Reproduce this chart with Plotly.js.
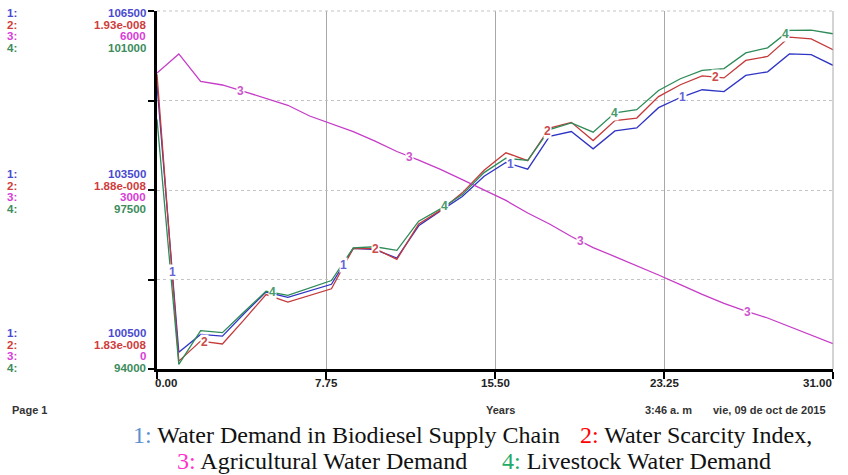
<!DOCTYPE html>
<html>
<head>
<meta charset="utf-8">
<script src="https://cdn.plot.ly/plotly-3.0.1.min.js"></script>
<style>html,body{margin:0;padding:0;background:#fff;}#chart{width:848px;height:475px;}</style>
</head>
<body>
<div id="chart"></div>
<script>
// ---- Data ----
const years = [0,1,2,3,4,5,6,7,8,9,10,11,12,13,14,15,16,17,18,19,20,21,22,23,24,25,26,27,28,29,30,31];
const biodieselDemand = [105270,100780,101080,101050,101430,101790,101700,101810,101920,102520,102500,102360,102900,103150,103390,103730,103960,103850,104400,104480,104190,104490,104540,104880,105050,105180,105150,105420,105480,105780,105770,105590];
const scarcityIndex = [1.9123e-8,1.8322e-8,1.8378e-8,1.8370e-8,1.8438e-8,1.8508e-8,1.8487e-8,1.8505e-8,1.8524e-8,1.8637e-8,1.8636e-8,1.8606e-8,1.8705e-8,1.8743e-8,1.8792e-8,1.8855e-8,1.8904e-8,1.8882e-8,1.8973e-8,1.8989e-8,1.8938e-8,1.8994e-8,1.9001e-8,1.9061e-8,1.9094e-8,1.9119e-8,1.9113e-8,1.9162e-8,1.9173e-8,1.9227e-8,1.9222e-8,1.9192e-8];
const agriculturalDemand = [4960,5280,4820,4760,4650,4530,4420,4240,4110,3980,3820,3645,3500,3345,3175,3000,2825,2615,2430,2220,2035,1885,1735,1575,1415,1250,1100,970,855,710,560,425];
const livestockDemand = [98880,94090,94750,94710,95120,95520,95440,95580,95730,96370,96390,96320,96890,97130,97410,97840,98120,98080,98680,98810,98630,99010,99070,99445,99675,99840,99875,100180,100280,100620,100625,100555];

const seriesNames = ["Water Demand in Biodiesel Supply Chain","Water Scarcity Index,","Agricultural Water Demand","Livestock Water Demand"];
const xTickVals = [0,7.75,15.5,23.25,31];
const xTickText = ["0.00","7.75","15.50","23.25","31.00"];
const s1Ticks = ["106500","103500","100500"];
const s2Ticks = ["1.93e-008","1.88e-008","1.83e-008"];
const s3Ticks = ["6000","3000","0"];
const s4Ticks = ["101000","97500","94000"];
const ranges = [[100500,106500],[1.83e-8,1.93e-8],[0,6000],[94000,101000]];

// ---- Styles ----
const lineColors = ["#2f34c4","#c43a3a","#c63cc8","#2e8a58"];
const numColors = ["#4a4ad0","#d03c3c","#d83cd8","#3c8c5c"];
const lblColors = ["#6464d8","#cc4a4a","#cc55cc","#4a9a6a"];
const legendNumColors = ["#5b8fd0","#ff0000","#ff33cc","#22aa66"];
const labelYears = [[0.7,8.55,16.2,24.1],[2.2,10.0,17.9,25.6],[3.85,11.6,19.4,27.1],[5.3,13.2,21.0,28.8]];

const allSeries = [biodieselDemand, scarcityIndex, agriculturalDemand, livestockDemand];
const axisIds = ["y","y2","y3","y4"];

function interp(arr, t){
  const i = Math.min(Math.floor(t), years.length-2);
  const f = t - years[i];
  return arr[i] + (arr[i+1]-arr[i])*f;
}

const traces = allSeries.map((arr,k)=>({
  x: years, y: arr, type:"scatter", mode:"lines",
  yaxis: axisIds[k], name: seriesNames[k],
  line:{color:lineColors[k], width:1.3}, hoverinfo:"skip", showlegend:false
}));

const L=157, R=833, T=11, B=369;
const px = v => (v-L)/(R-L);
const py = v => (B-v)/(B-T);
const ARIAL = "Arial, Liberation Sans, sans-serif";

const annotations = [];
// line labels
allSeries.forEach((arr,k)=>{
  labelYears[k].forEach(t=>{
    annotations.push({xref:"x", yref:axisIds[k], x:t, y:interp(arr,t), text:"<b>"+(k+1)+"</b>",
      showarrow:false, bgcolor:"#ffffff", borderpad:0, font:{family:ARIAL, size:12, color:lblColors[k]}});
  });
});
// x tick labels
xTickVals.forEach((v,i)=>{
  const anchor = i===0 ? "left" : (i===xTickVals.length-1 ? "right" : "center");
  const shift = i===0 ? -4 : (i===xTickVals.length-1 ? 1 : 0);
  annotations.push({xref:"x", yref:"paper", x:v, y:py(383), xanchor:anchor, yanchor:"middle", xshift:shift, showarrow:false,
    text:"<b>"+xTickText[i]+"</b>", font:{family:ARIAL, size:11.5, color:"#222"}});
});
// left scale labels
const tickSets=[s1Ticks,s2Ticks,s3Ticks,s4Ticks];
const blockY=[13,174,333];
const lineStep=11.7;
for(let b=0;b<3;b++){
  for(let k=0;k<4;k++){
    const yy = blockY[b]+k*lineStep;
    annotations.push({xref:"paper",yref:"paper",x:px(5),y:py(yy),xanchor:"left",yanchor:"middle",showarrow:false,
      text:"<b>"+(k+1)+":</b>",font:{family:ARIAL,size:11.5,color:numColors[k]}});
    annotations.push({xref:"paper",yref:"paper",x:px(148),y:py(yy),xanchor:"right",yanchor:"middle",showarrow:false,
      text:"<b>"+tickSets[k][b]+"</b>",font:{family:ARIAL,size:11.5,color:numColors[k]}});
  }
}
// footer texts
annotations.push({xref:"paper",yref:"paper",x:px(10),y:py(410),xanchor:"left",yanchor:"middle",showarrow:false,
  text:"<b>Page 1</b>",font:{family:ARIAL,size:11,color:"#333"}});
annotations.push({xref:"paper",yref:"paper",x:px(484),y:py(410),xanchor:"left",yanchor:"middle",showarrow:false,
  text:"<b>Years</b>",font:{family:ARIAL,size:11,color:"#333"}});
annotations.push({xref:"paper",yref:"paper",x:px(643),y:py(410),xanchor:"left",yanchor:"middle",showarrow:false,
  text:"<b>3:46 a. m</b>",font:{family:ARIAL,size:11,color:"#333"}});
annotations.push({xref:"paper",yref:"paper",x:px(711),y:py(410),xanchor:"left",yanchor:"middle",showarrow:false,
  text:"<b>vie, 09 de oct de 2015</b>",font:{family:ARIAL,size:11,color:"#333"}});
// bottom legend
const legPos=[[131,435],[578,435],[175,461],[500,461]];
seriesNames.forEach((nm,k)=>{
  annotations.push({xref:"paper",yref:"paper",x:px(legPos[k][0]),y:py(legPos[k][1]),xanchor:"left",yanchor:"middle",showarrow:false,
    text:'<span style="color:'+legendNumColors[k]+'">'+(k+1)+':</span> '+nm,
    font:{family:"Liberation Serif, Times New Roman, serif",size:24,color:"#111"}});
});

const hiddenAxis = r => ({overlaying:"y", range:r, visible:false, fixedrange:true});

const layout = {
  width:848, height:475,
  margin:{l:L, r:848-R, t:T, b:475-B},
  paper_bgcolor:"#fff", plot_bgcolor:"#fff",
  showlegend:false,
  xaxis:{range:[0,31], tickmode:"array", tickvals:xTickVals, showticklabels:false,
    showgrid:true, gridcolor:"#a8a8a8", gridwidth:1,
    showline:true, linecolor:"#000", linewidth:3, ticks:"outside", ticklen:7, tickwidth:2, tickcolor:"#000", zeroline:false},
  yaxis:{range:ranges[0], tick0:100500, dtick:1500, showticklabels:false,
    showgrid:true, gridcolor:"#c4c4c4", griddash:"dot", gridwidth:1,
    showline:true, linecolor:"#000", linewidth:3, ticks:"outside", ticklen:6, tickwidth:2, tickcolor:"#000", zeroline:false},
  yaxis2:hiddenAxis(ranges[1]),
  yaxis3:hiddenAxis(ranges[2]),
  yaxis4:hiddenAxis(ranges[3]),
  annotations:annotations,
  shapes:[
    {type:"line",xref:"paper",yref:"paper",x0:1,x1:1,y0:0,y1:1,line:{color:"#a8a8a8",width:1}},
    {type:"line",xref:"paper",yref:"paper",x0:0,x1:1,y0:1,y1:1,line:{color:"#c4c4c4",width:1,dash:"dot"}}
  ]
};

Plotly.newPlot("chart", traces, layout, {staticPlot:true, displayModeBar:false});
</script>
</body>
</html>
